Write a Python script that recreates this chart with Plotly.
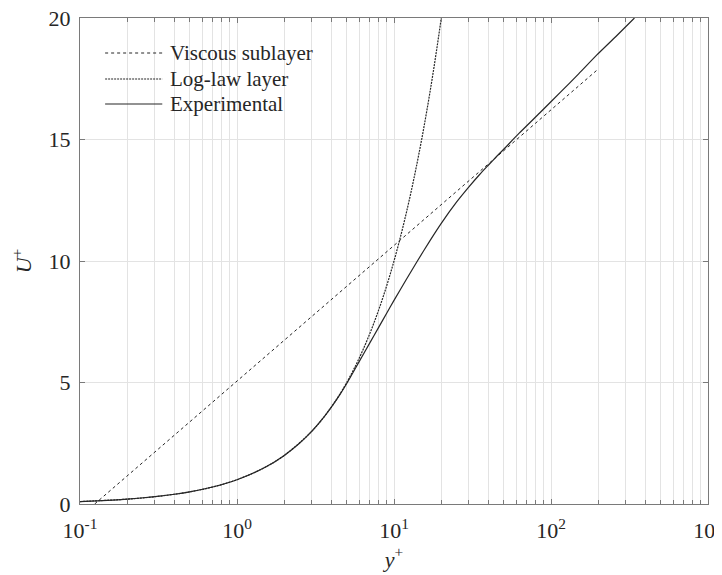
import plotly.graph_objects as go

# Data
dashed_yplus = [0.124, 1, 10, 100, 200]
dashed_u = [0.0, 5.06, 10.64, 16.22, 17.9]

dotted_yplus = [0.1, 0.2, 0.3, 0.5, 0.7, 1, 1.5, 2, 3, 4, 5, 6, 7, 8, 9, 10,
                11, 12, 13, 14, 15, 16, 17, 18, 19, 20]
dotted_u = [0.1, 0.2, 0.3, 0.5, 0.7, 1, 1.5, 2, 3, 4, 5, 6, 7, 8, 9, 10,
            11, 12, 13, 14, 15, 16, 17, 18, 19, 20]

exp_yplus = [0.1, 0.15, 0.2, 0.3, 0.4, 0.5, 0.7, 1.0, 1.5, 2.0, 2.5, 3.0, 3.5, 4.0, 4.5,
             5, 6, 7, 8, 9, 10, 12, 14, 17, 20, 25, 30, 35, 40, 45, 50, 62.5, 85, 115, 150,
             196, 260, 340]
exp_u = [0.1, 0.15, 0.2, 0.3, 0.4, 0.5, 0.7, 1.0, 1.5, 2.0, 2.5, 3.0, 3.5, 4.0, 4.48,
         4.96, 5.86, 6.62, 7.28, 7.86, 8.38, 9.25, 9.97, 10.85, 11.55, 12.42, 13.05, 13.55,
         13.95, 14.3, 14.6, 15.25, 16.1, 16.95, 17.7, 18.48, 19.25, 20.0]

names = ["Viscous sublayer", "Log-law layer", "Experimental"]
dashes = ["3px,3px", "2px,1px", "solid"]

x_tickvals = [0.1, 1, 10, 100, 1000]
x_ticktext = ["10<sup>-1</sup>", "10<sup>0</sup>", "10<sup>1</sup>", "10<sup>2</sup>", "10<sup>3</sup>"]
x_minor = [m * 10 ** e for e in (-1, 0, 1, 2) for m in range(2, 10)]
y_tickvals = [0, 5, 10, 15, 20]

line_col = "#262626"
grid_col = "#e3e3e3"
axis_col = "#7a7a7a"
font_fam = "Liberation Serif"

fig = go.Figure()
fig.add_trace(go.Scatter(x=dashed_yplus, y=dashed_u, mode="lines", name=names[0],
                         showlegend=False,
                         line=dict(color=line_col, width=1, dash=dashes[0])))
fig.add_trace(go.Scatter(x=dotted_yplus, y=dotted_u, mode="lines", name=names[1],
                         showlegend=False,
                         line=dict(color=line_col, width=1.2, dash=dashes[1], shape="spline")))
fig.add_trace(go.Scatter(x=exp_yplus, y=exp_u, mode="lines", name=names[2],
                         showlegend=False,
                         line=dict(color=line_col, width=1.2, shape="spline", smoothing=0.6)))

# Manual legend (paper coordinates)
leg_x0, leg_x1, leg_tx = 0.040, 0.131, 0.140
leg_rows = [0.928, 0.8745, 0.823]
for nm, ds, ry in zip(names, dashes, leg_rows):
    fig.add_shape(type="line", xref="paper", yref="paper",
                  x0=leg_x0, x1=leg_x1, y0=ry, y1=ry,
                  line=dict(color=line_col, width=1.2, dash=ds))
    fig.add_annotation(xref="paper", yref="paper", x=leg_tx, y=ry,
                       xanchor="left", yanchor="middle", showarrow=False,
                       text=nm, font=dict(family=font_fam, size=21, color=line_col))

# The page body adds an 8px offset, so the figure is sized to fit the window.
fig.update_layout(
    width=714, height=567,
    margin=dict(l=72, r=14, t=10, b=71),
    paper_bgcolor="white", plot_bgcolor="white",
    font=dict(family=font_fam, size=22, color=line_col),
    showlegend=False,
)

fig.update_xaxes(
    type="log", range=[-1, 3], automargin=False, ticklabeloverflow="allow",
    tickvals=x_tickvals, ticktext=x_ticktext,
    ticks="inside", ticklen=5, tickcolor=axis_col, ticklabelstandoff=7,
    showgrid=True, gridcolor=grid_col, gridwidth=1,
    minor=dict(tickvals=x_minor, ticks="inside", ticklen=4, tickcolor=axis_col,
               showgrid=True, gridcolor=grid_col, gridwidth=1),
    showline=True, linecolor=axis_col, linewidth=1, mirror="ticks",
    zeroline=False,
    title=dict(text="<i>y</i><sup>+</sup>", standoff=4, font=dict(size=22)),
    tickfont=dict(size=22),
)
fig.update_yaxes(
    range=[0, 20], tickvals=y_tickvals, automargin=False, ticklabeloverflow="allow",
    ticks="inside", ticklen=5, tickcolor=axis_col, ticklabelstandoff=4,
    showgrid=True, gridcolor=grid_col, gridwidth=1,
    showline=True, linecolor=axis_col, linewidth=1, mirror="ticks",
    zeroline=False,
    title=dict(text="<i>U</i><sup>+</sup>", standoff=13, font=dict(size=22)),
    tickfont=dict(size=22),
)

fig.write_html("out.html")
